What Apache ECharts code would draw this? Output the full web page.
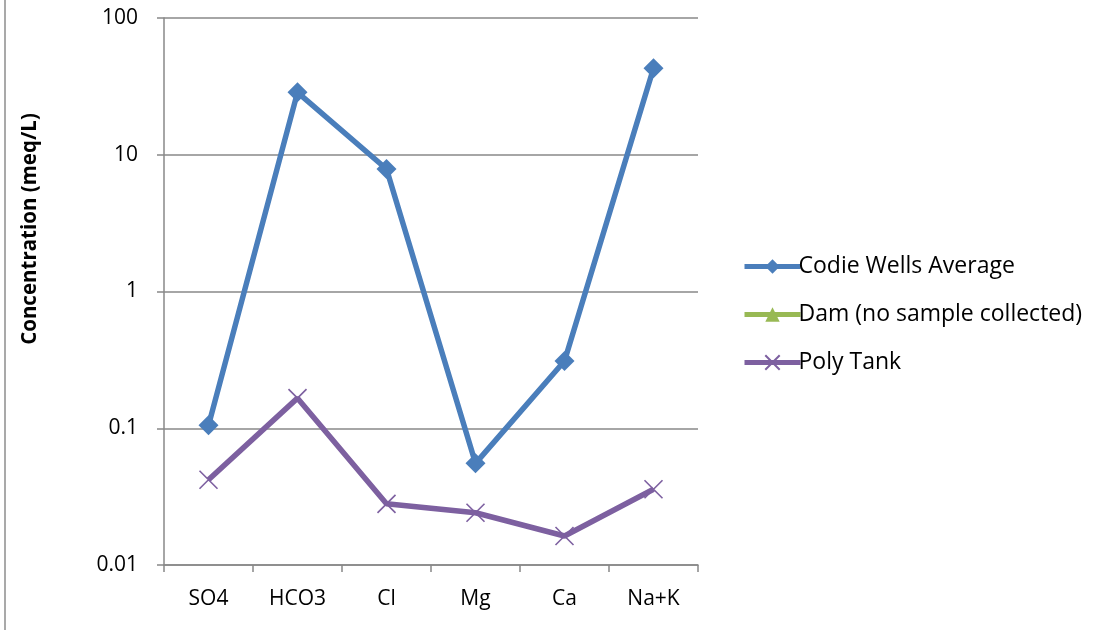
<!DOCTYPE html>
<html>
<head>
<meta charset="utf-8">
<script src="https://cdn.jsdelivr.net/npm/echarts@6/dist/echarts.min.js"></script>
<style>
  html, body { margin: 0; padding: 0; background: #fff; }
  #chart { width: 1112px; height: 630px; }
</style>
</head>
<body>
<div id="chart"></div>
<script>
// Ion concentrations (meq/L) by sampling location
const categories = ['SO4', 'HCO3', 'Cl', 'Mg', 'Ca', 'Na+K'];
const codieWellsAverage = [0.105, 28.6, 7.87, 0.0554, 0.31, 42.9];
const dam = [null, null, null, null, null, null]; // no sample collected
const polyTank = [0.042, 0.166, 0.028, 0.0241, 0.0163, 0.0358];
const yTicks = [0.01, 0.1, 1, 10, 100];

const FONT = '"Open Sans", "Noto Sans", sans-serif';
const GRID_GRAY = '#888888';
const BLUE = '#4A7EBB';
const GREEN = '#98B954';
const PURPLE = '#7D60A0';
const CROSS = 'path://M0,0L10,10M10,0L0,10';

const chart = echarts.init(document.getElementById('chart'), null, { renderer: 'canvas' });

chart.setOption({
  animation: false,
  backgroundColor: '#ffffff',
  grid: { left: 164, right: 414, top: 18, bottom: 65, containLabel: false },
  legend: {
    orient: 'vertical',
    left: 737,
    top: 250,
    itemWidth: 56,
    itemHeight: 18,
    itemGap: 25,
    lineStyle: { width: 5 },
    textStyle: { fontFamily: FONT, fontSize: 23, color: '#000', padding: [0, 0, 0, -7] },
    data: ['Codie Wells Average', 'Dam (no sample collected)', 'Poly Tank']
  },
  xAxis: {
    type: 'category',
    data: categories,
    boundaryGap: true,
    axisLine: { show: true, lineStyle: { color: GRID_GRAY, width: 1.5 } },
    axisTick: { show: true, length: 7, alignWithLabel: false, lineStyle: { color: GRID_GRAY, width: 1.5 } },
    axisLabel: { margin: 24, fontFamily: FONT, fontSize: 21, color: '#000' },
    splitLine: { show: false }
  },
  yAxis: {
    type: 'log',
    logBase: 10,
    min: yTicks[0],
    max: yTicks[yTicks.length - 1],
    axisLine: { show: true, lineStyle: { color: GRID_GRAY, width: 1.5 } },
    axisTick: { show: true, length: 7, lineStyle: { color: GRID_GRAY, width: 1.5 } },
    minorTick: { show: false },
    axisLabel: {
      margin: 26,
      fontFamily: FONT,
      fontSize: 21,
      color: '#000',
      formatter: function (v) {
        const match = yTicks.find(t => Math.abs(Math.log10(t) - Math.log10(v)) < 1e-6);
        return match !== undefined ? String(match) : '';
      }
    },
    splitLine: { show: true, lineStyle: { color: GRID_GRAY, width: 1.5 } }
  },
  series: [
    {
      name: 'Codie Wells Average',
      type: 'line',
      data: codieWellsAverage,
      symbol: 'diamond',
      symbolSize: 20,
      showAllSymbol: true,
      lineStyle: { color: BLUE, width: 5.5 },
      itemStyle: { color: BLUE, borderWidth: 0 },
      z: 3
    },
    {
      name: 'Dam (no sample collected)',
      type: 'line',
      data: dam,
      symbol: 'triangle',
      symbolSize: 18,
      lineStyle: { color: GREEN, width: 5.5 },
      itemStyle: { color: GREEN },
      z: 2
    },
    {
      name: 'Poly Tank',
      type: 'line',
      data: polyTank,
      symbol: CROSS,
      symbolSize: 18,
      showAllSymbol: true,
      lineStyle: { color: PURPLE, width: 5.5 },
      itemStyle: { color: 'rgba(0,0,0,0)', borderColor: PURPLE, borderWidth: 1.6 },
      z: 4
    }
  ],
  graphic: [
    {
      type: 'line',
      shape: { x1: 5, y1: 0, x2: 5, y2: 630 },
      style: { stroke: '#8c8c8c', lineWidth: 1.5 },
      silent: true
    },
    {
      type: 'text',
      x: 30,
      y: 229,
      rotation: Math.PI / 2,
      style: {
        text: 'Concentration (meq/L)',
        fontFamily: FONT,
        fontSize: 20.5,
        fontWeight: 'bold',
        fill: '#000',
        align: 'center',
        verticalAlign: 'middle'
      },
      silent: true
    }
  ]
});
</script>
</body>
</html>
